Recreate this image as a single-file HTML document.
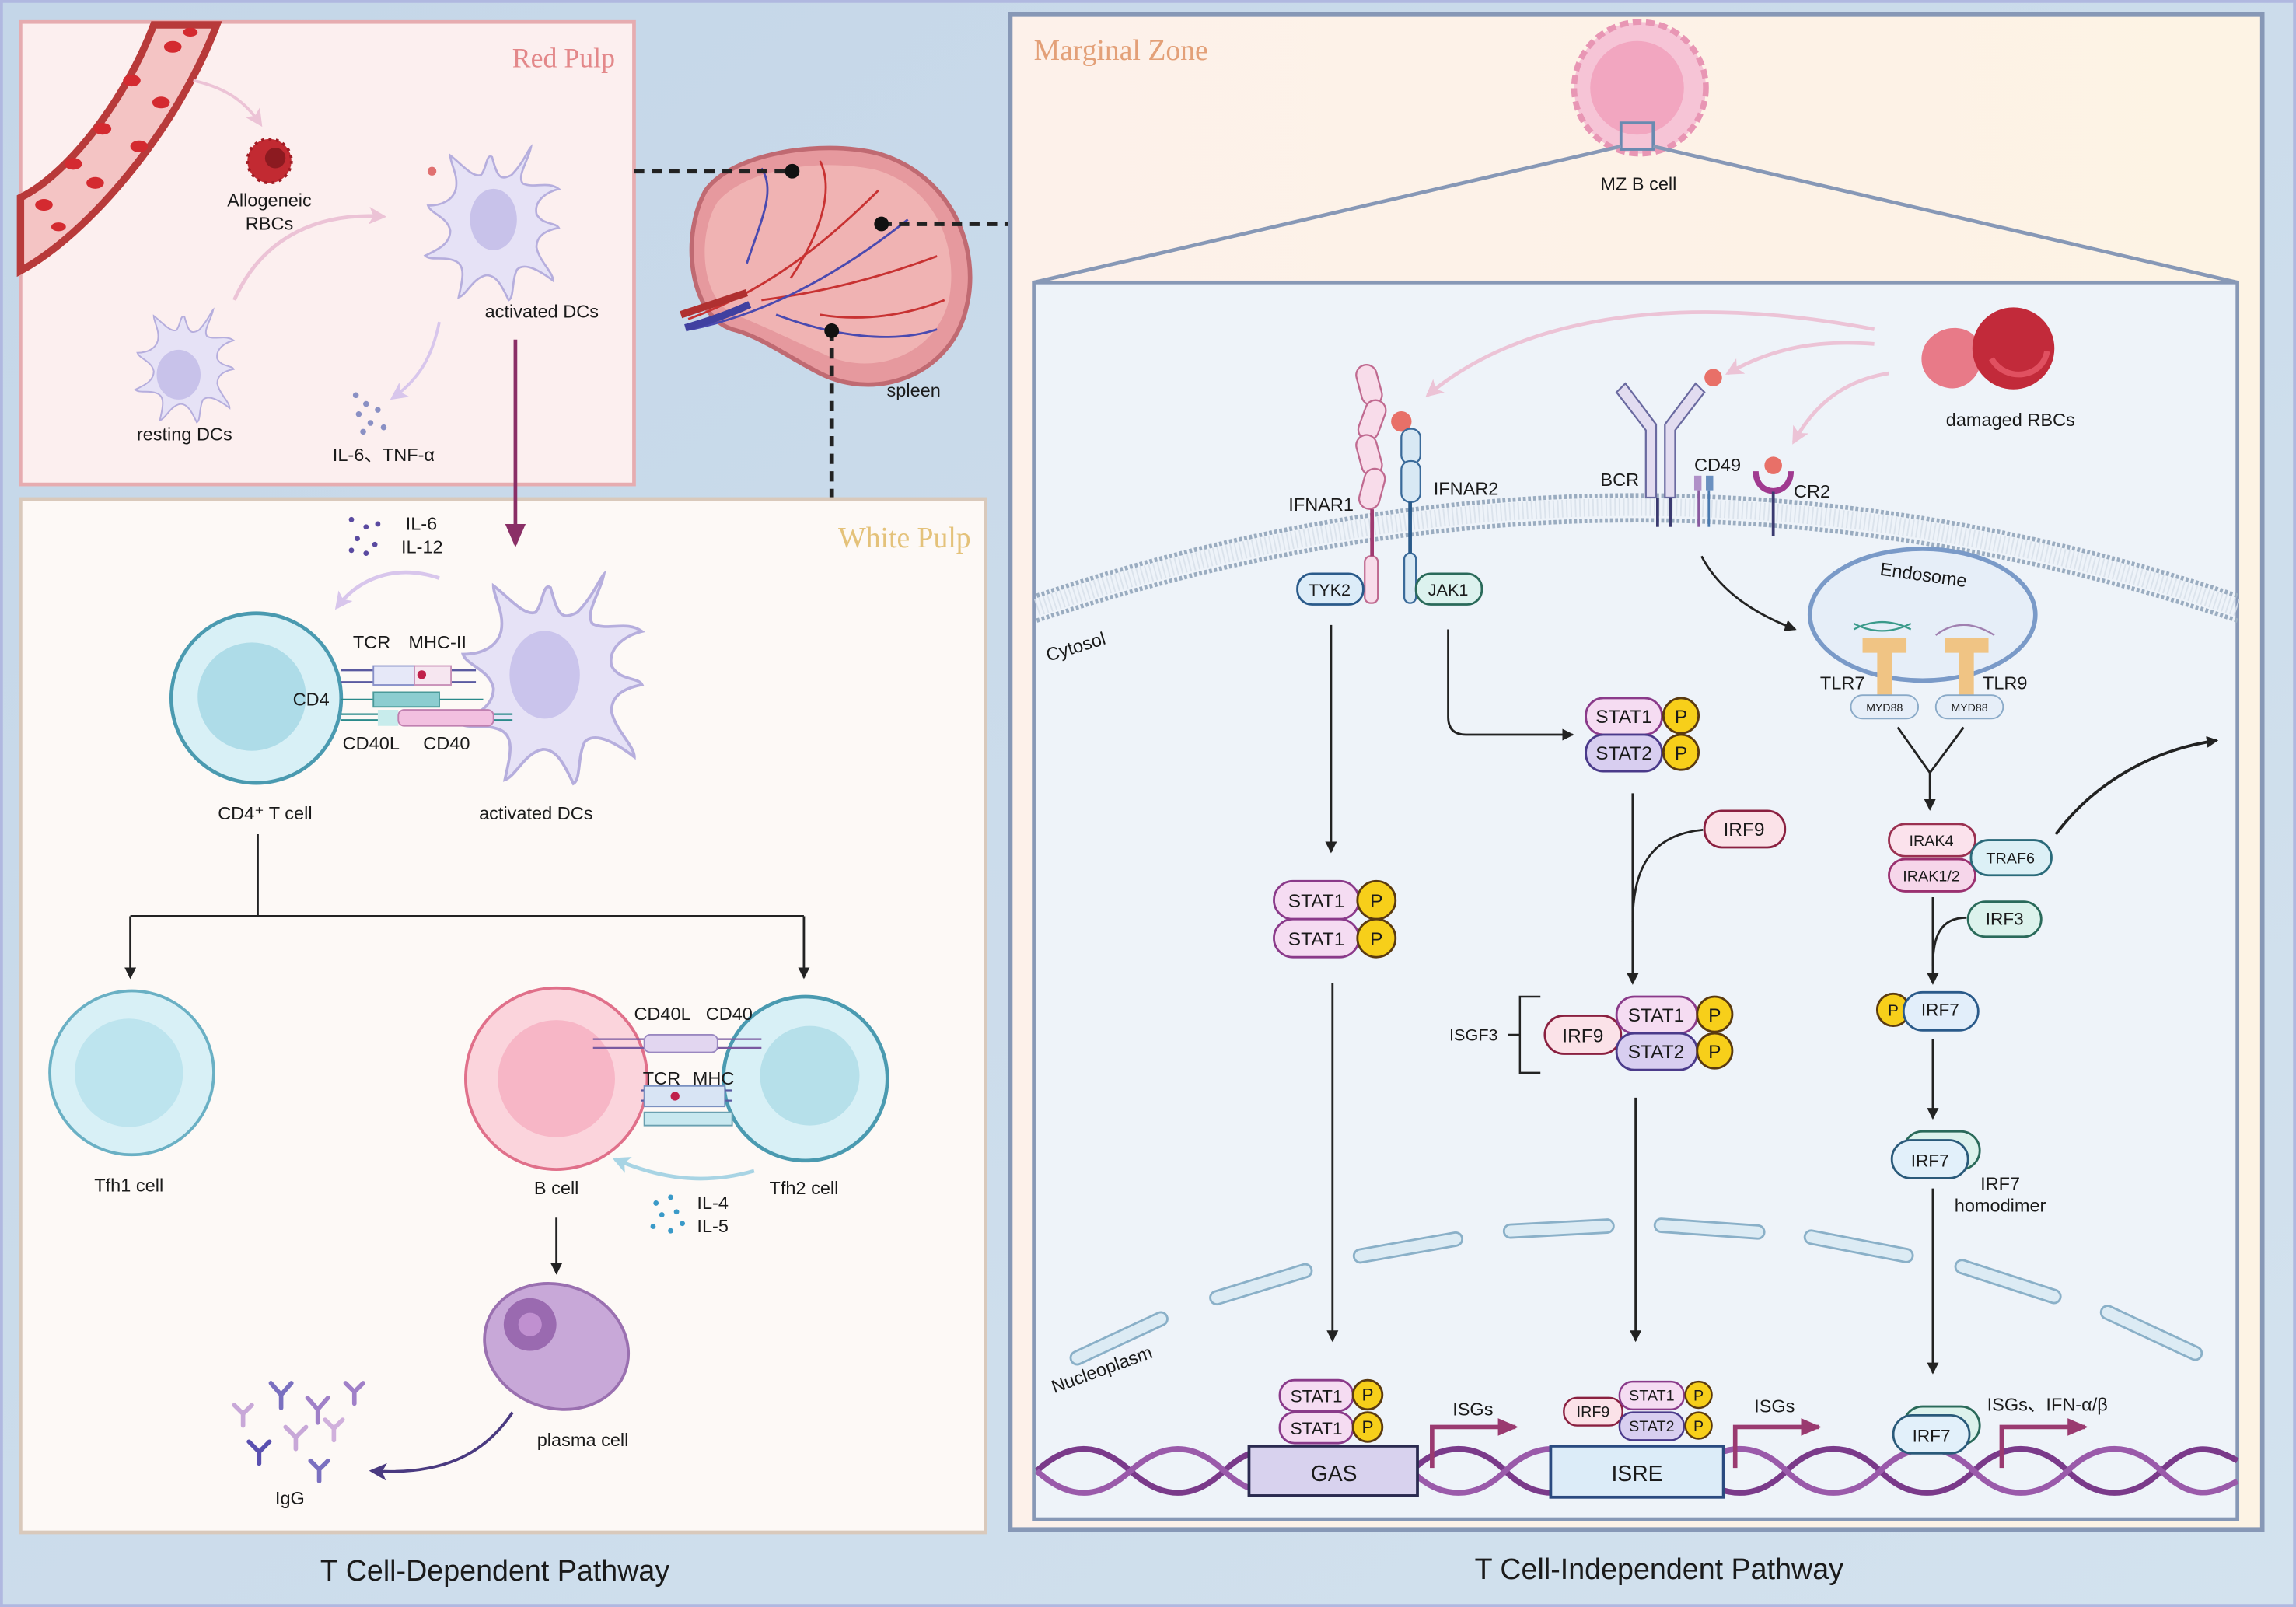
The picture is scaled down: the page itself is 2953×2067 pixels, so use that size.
<!DOCTYPE html>
<html><head><meta charset="utf-8"><style>
html,body{margin:0;padding:0;width:2953px;height:2067px;overflow:hidden;background:#c8dae9}
svg{display:block}
text{font-family:"Liberation Sans",Arial,sans-serif;fill:#1a1a1a}
.t{font-size:12.5px}
.ser{font-family:"Liberation Serif",serif}
</style></head><body>
<svg width="2953" height="2067" viewBox="0 0 1568 1098" preserveAspectRatio="none" xmlns="http://www.w3.org/2000/svg">
<defs>
<linearGradient id="bg" x1="0" y1="0" x2="1" y2="1"><stop offset="0" stop-color="#c4d6e8"/><stop offset="1" stop-color="#d3e2ee"/></linearGradient>
<linearGradient id="mz" x1="0" y1="0" x2="1" y2="0"><stop offset="0" stop-color="#fdf1ea"/><stop offset="1" stop-color="#fdf3e4"/></linearGradient>
<marker id="ah" markerWidth="8" markerHeight="8" refX="7" refY="4" orient="auto" markerUnits="userSpaceOnUse"><path d="M0,0 L8,4 L0,8 z" fill="#222"/></marker>
<marker id="ahp" markerWidth="12" markerHeight="12" refX="10" refY="6" orient="auto" markerUnits="userSpaceOnUse"><path d="M0,0 L12,6 L0,12 L3,6 z" fill="#ecc3d6"/></marker>
<marker id="ahl" markerWidth="12" markerHeight="12" refX="10" refY="6" orient="auto" markerUnits="userSpaceOnUse"><path d="M0,0 L12,6 L0,12 L3,6 z" fill="#d8c6ec"/></marker>
<marker id="ahb" markerWidth="12" markerHeight="12" refX="10" refY="6" orient="auto" markerUnits="userSpaceOnUse"><path d="M0,0 L12,6 L0,12 L3,6 z" fill="#a8d4e4"/></marker>
<marker id="ahd" markerWidth="12" markerHeight="12" refX="10" refY="6" orient="auto" markerUnits="userSpaceOnUse"><path d="M0,0 L12,6 L0,12 L3,6 z" fill="#4a3a80"/></marker>
<marker id="ahm" markerWidth="16" markerHeight="14" refX="14" refY="7" orient="auto" markerUnits="userSpaceOnUse"><path d="M0,0 L16,7 L0,14 z" fill="#8a2f66"/></marker>
<marker id="ahg" markerWidth="14" markerHeight="14" refX="12" refY="7" orient="auto" markerUnits="userSpaceOnUse"><path d="M0,1 L14,7 L0,13 z" fill="#9a3a70"/></marker>
<g id="dc"><path d="M0,-45 C4,-30 6,-28 14,-32 C22,-40 26,-50 28,-52 C26,-42 18,-32 22,-26 C30,-22 40,-28 48,-22 C40,-20 30,-14 32,-4 C36,4 46,2 48,6 C38,8 32,12 32,20 C34,30 44,38 44,44 C36,38 24,30 18,36 C14,44 16,56 12,58 C8,50 4,40 -4,40 C-14,42 -18,54 -24,56 C-22,46 -18,34 -26,30 C-34,26 -44,30 -48,26 C-40,22 -30,18 -30,8 C-32,-2 -44,-4 -46,-10 C-36,-10 -28,-14 -26,-22 C-24,-32 -30,-40 -30,-46 C-22,-40 -14,-30 -8,-32 C-4,-36 -4,-48 0,-45 z" fill="#e6e2f6" stroke="#b6aedd" stroke-width="1.5"/></g>
</defs>
<rect width="1568" height="1098" fill="url(#bg)"/>
<rect x="1" y="1" width="1566" height="1096" fill="none" stroke="#b0b8e0" stroke-width="2"/>

<!-- Red Pulp -->
<rect x="14" y="15" width="419" height="316" fill="#fcefef" stroke="#e6acb0" stroke-width="2.5"/>
<text x="420" y="46" text-anchor="end" class="ser" font-size="19" style="fill:#e3888a">Red Pulp</text>
<path d="M14,185 C60,160 120,90 148,17 L105,17 C85,70 45,120 14,135 z" fill="#f4c4c4" stroke="#b83a3a" stroke-width="5"/>
<g fill="#d42a30"><ellipse cx="118" cy="32" rx="6" ry="4"/><ellipse cx="90" cy="55" rx="6" ry="4"/><ellipse cx="110" cy="70" rx="6" ry="4"/><ellipse cx="70" cy="88" rx="6" ry="4"/><ellipse cx="95" cy="100" rx="6" ry="4"/><ellipse cx="50" cy="112" rx="6" ry="4"/><ellipse cx="65" cy="125" rx="6" ry="4"/><ellipse cx="30" cy="140" rx="6" ry="4"/><ellipse cx="40" cy="155" rx="5" ry="3"/><ellipse cx="130" cy="22" rx="5" ry="3"/></g>
<path d="M132,55 C155,60 168,70 178,85" fill="none" stroke="#ecc3d6" stroke-width="2" marker-end="url(#ahp)"/>
<circle cx="184" cy="110" r="15" fill="#c22a32" stroke="#a01c24" stroke-width="2" stroke-dasharray="2 3"/>
<circle cx="188" cy="108" r="7" fill="#8c1a20"/>
<text x="184" y="141" text-anchor="middle" class="t">Allogeneic</text>
<text x="184" y="157" text-anchor="middle" class="t">RBCs</text>
<path d="M160,205 C180,160 220,145 262,148" fill="none" stroke="#ecc3d6" stroke-width="2.5" marker-end="url(#ahp)"/>
<use href="#dc" transform="translate(336,150) scale(0.95)"/>
<ellipse cx="337" cy="150" rx="16" ry="21" fill="#c8c2ea"/>
<circle cx="295" cy="117" r="3" fill="#e07070"/>
<text x="370" y="217" text-anchor="middle" class="t">activated DCs</text>
<use href="#dc" transform="translate(126,248) scale(0.7)"/>
<ellipse cx="122" cy="256" rx="15" ry="17" fill="#c8c2ea"/>
<text x="126" y="301" text-anchor="middle" class="t">resting DCs</text>
<path d="M300,220 C295,245 285,260 268,272" fill="none" stroke="#d8c6ec" stroke-width="2" marker-end="url(#ahl)"/>
<g fill="#8a90c4"><circle cx="243" cy="270" r="2"/><circle cx="250" cy="276" r="2"/><circle cx="258" cy="280" r="2"/><circle cx="245" cy="283" r="2"/><circle cx="253" cy="289" r="2"/><circle cx="262" cy="292" r="2"/><circle cx="248" cy="295" r="2"/></g>
<text x="262" y="315" text-anchor="middle" class="t">IL-6、TNF-α</text>

<!-- spleen -->
<path d="M482,130 C500,105 560,95 600,105 C650,120 670,170 660,210 C650,255 600,275 560,255 C540,245 520,230 500,225 C470,215 465,160 482,130 z" fill="#e6999e" stroke="#c06a72" stroke-width="3"/>
<path d="M490,138 C510,115 560,108 598,116 C640,128 655,170 648,205 C640,240 600,258 565,243 C540,232 520,222 502,215 C478,205 476,160 490,138 z" fill="#f0b3b3"/>
<g stroke="#c83232" stroke-width="1.5" fill="none"><path d="M470,218 C520,200 560,170 600,130"/><path d="M520,205 C560,200 600,190 640,175"/><path d="M540,190 C560,160 570,130 560,110"/><path d="M560,215 C590,220 620,215 645,205"/></g>
<g stroke="#4a4ab0" stroke-width="1.5" fill="none"><path d="M472,225 C520,215 570,190 620,150"/><path d="M530,215 C570,230 610,235 640,225"/><path d="M510,180 C520,150 530,130 520,115"/></g>
<path d="M465,215 C480,210 495,205 510,200" stroke="#b03030" stroke-width="5"/><path d="M468,224 C482,220 497,215 512,208" stroke="#4040a0" stroke-width="5"/>
<text x="624" y="271" text-anchor="middle" class="t">spleen</text>
<g stroke="#222" stroke-width="3" stroke-dasharray="7 5" fill="none"><path d="M433,117 L541,117"/><path d="M602,153 L690,153"/><path d="M568,226 L568,341"/></g>
<g fill="#111"><circle cx="541" cy="117" r="5"/><circle cx="602" cy="153" r="5"/><circle cx="568" cy="226" r="5"/></g>

<!-- White Pulp -->
<rect x="14" y="341" width="659" height="706" fill="#fdf9f6" stroke="#d9c9bb" stroke-width="2.5"/>
<path d="M352,232 L352,372" stroke="#8a2f66" stroke-width="2.5" marker-end="url(#ahm)"/>
<text x="663" y="374" text-anchor="end" class="ser" font-size="20" style="fill:#e4c27a">White Pulp</text>
<g fill="#5a4aa0"><circle cx="240" cy="355" r="1.8"/><circle cx="250" cy="360" r="1.8"/><circle cx="244" cy="368" r="1.8"/><circle cx="256" cy="372" r="1.8"/><circle cx="240" cy="376" r="1.8"/><circle cx="258" cy="358" r="1.8"/><circle cx="250" cy="378" r="1.8"/></g>
<text x="277" y="362" class="t">IL-6</text><text x="274" y="378" class="t">IL-12</text>
<path d="M300,395 C270,385 245,395 230,415" fill="none" stroke="#d8c6ec" stroke-width="2.5" marker-end="url(#ahl)"/>
<circle cx="175" cy="477" r="58" fill="#d8f0f6" stroke="#4a9ab0" stroke-width="2.5"/>
<circle cx="172" cy="476" r="37" fill="#aedce8"/>
<use href="#dc" transform="translate(376,460) scale(1.3)"/>
<ellipse cx="372" cy="461" rx="24" ry="30" fill="#cac4ec"/>
<g stroke="#5a5aa0" stroke-width="1.2"><path d="M233,458 L325,458"/><path d="M233,466 L325,466"/></g>
<rect x="255" y="455" width="28" height="13" fill="#e6e8f8" stroke="#8890c8"/><rect x="283" y="455" width="25" height="13" fill="#f6e6f0" stroke="#c890b8"/><circle cx="288" cy="461" r="3" fill="#c0204a"/>
<g stroke="#2a8a8a" stroke-width="1.2"><path d="M233,478 L330,478"/></g>
<rect x="255" y="473" width="45" height="10" fill="#8ccdd0" stroke="#4a9a9a"/>
<g stroke="#2a8a8a" stroke-width="1.2"><path d="M233,488 L350,488"/><path d="M233,492 L350,492"/></g>
<rect x="258" y="485" width="14" height="11" fill="#c8ecec"/><rect x="272" y="485" width="65" height="11" rx="4" fill="#f2c0e0" stroke="#c080b0"/>
<text x="241" y="443" class="t">TCR</text><text x="279" y="443" class="t">MHC-II</text>
<text x="200" y="482" class="t">CD4</text>
<text x="234" y="512" class="t">CD40L</text><text x="289" y="512" class="t">CD40</text>
<text x="181" y="560" text-anchor="middle" class="t">CD4⁺ T cell</text>
<text x="366" y="560" text-anchor="middle" class="t">activated DCs</text>
<g stroke="#222" stroke-width="1.5" fill="none"><path d="M176,570 L176,626"/><path d="M89,626 L549,626"/><path d="M89,626 L89,668" marker-end="url(#ah)"/><path d="M549,626 L549,668" marker-end="url(#ah)"/></g>
<circle cx="90" cy="733" r="56" fill="#d8f0f6" stroke="#6ab0c4" stroke-width="2"/>
<circle cx="88" cy="733" r="37" fill="#bde4ee"/>
<text x="88" y="814" text-anchor="middle" class="t">Tfh1 cell</text>
<circle cx="380" cy="737" r="62" fill="#fbd4dc" stroke="#e0708a" stroke-width="2"/>
<circle cx="380" cy="737" r="40" fill="#f7b6c6"/>
<circle cx="550" cy="737" r="56" fill="#d8f0f6" stroke="#4a9ab0" stroke-width="2.5"/>
<circle cx="553" cy="735" r="34" fill="#b6e0ea"/>
<g stroke="#7a5aa0" stroke-width="1.2"><path d="M405,710 L520,710"/><path d="M405,716 L520,716"/></g>
<rect x="440" y="707" width="50" height="12" rx="4" fill="#e2d6f0" stroke="#9a88c0"/>
<g stroke="#5a5aa0" stroke-width="1.2"><path d="M438,745 L500,745"/><path d="M438,752 L500,752"/></g>
<rect x="440" y="742" width="55" height="14" fill="#d8e4f4" stroke="#7a90c0"/><circle cx="461" cy="749" r="3" fill="#c0204a"/>
<rect x="440" y="760" width="60" height="9" fill="#c8e8ef" stroke="#6aa0b0"/>
<text x="433" y="697" class="t">CD40L</text><text x="482" y="697" class="t">CD40</text>
<text x="439" y="741" class="t">TCR</text><text x="473" y="741" class="t">MHC</text>
<text x="380" y="816" text-anchor="middle" class="t">B cell</text>
<text x="549" y="816" text-anchor="middle" class="t">Tfh2 cell</text>
<path d="M515,800 C480,810 450,805 420,792" fill="none" stroke="#a8d4e4" stroke-width="2.5" marker-end="url(#ahb)"/>
<g fill="#3a9ac8"><circle cx="448" cy="822" r="1.8"/><circle cx="458" cy="818" r="1.8"/><circle cx="452" cy="830" r="1.8"/><circle cx="462" cy="828" r="1.8"/><circle cx="446" cy="838" r="1.8"/><circle cx="458" cy="841" r="1.8"/><circle cx="466" cy="836" r="1.8"/></g>
<text x="476" y="826" class="t">IL-4</text><text x="476" y="842" class="t">IL-5</text>
<path d="M380,832 L380,870" stroke="#222" stroke-width="1.5" marker-end="url(#ah)"/>
<ellipse cx="380" cy="920" rx="50" ry="42" fill="#c8a8d8" stroke="#9a70b0" stroke-width="2" transform="rotate(20 380 920)"/>
<circle cx="362" cy="905" r="18" fill="#9a6ab0"/><circle cx="362" cy="905" r="8" fill="#c090d0"/>
<text x="398" y="988" text-anchor="middle" class="t">plasma cell</text>
<path d="M350,965 C330,995 300,1008 254,1005" fill="none" stroke="#4a3a80" stroke-width="2" marker-end="url(#ahd)"/>
<g stroke-width="3" fill="none" stroke-linecap="round">
<path d="M185,945 l7,8 l7,-8 M192,953 l0,9" stroke="#7a70c0"/><path d="M160,960 l6,6 l6,-6 M166,966 l0,8" stroke="#c8a8d8"/>
<path d="M210,955 l7,8 l7,-8 M217,963 l0,9" stroke="#a080c8"/><path d="M170,985 l7,7 l7,-7 M177,992 l0,8" stroke="#5a50b0"/>
<path d="M195,975 l7,7 l7,-7 M202,982 l0,8" stroke="#c8a8d8"/><path d="M212,998 l6,6 l6,-6 M218,1004 l0,8" stroke="#7a70c0"/>
<path d="M236,945 l6,6 l6,-6 M242,951 l0,8" stroke="#a080c8"/><path d="M222,970 l6,6 l6,-6 M228,976 l0,8" stroke="#d0b0dc"/></g>
<text x="198" y="1028" text-anchor="middle" class="t">IgG</text>
<text x="338" y="1080" text-anchor="middle" font-size="20">T Cell-Dependent Pathway</text>

<!-- Marginal Zone -->
<rect x="690" y="10" width="855" height="1035" fill="url(#mz)" stroke="#8798b6" stroke-width="3"/>
<text x="706" y="41" class="ser" font-size="20" style="fill:#e3a078">Marginal Zone</text>
<circle cx="1120" cy="60" r="45" fill="#f6c4d6" stroke="#e896b4" stroke-width="4" stroke-dasharray="6 3"/>
<circle cx="1118" cy="60" r="32" fill="#f2a6c0"/>
<rect x="1107" y="84" width="22" height="18" fill="none" stroke="#6a8ab0" stroke-width="2"/>
<text x="1119" y="130" text-anchor="middle" class="t">MZ B cell</text>
<g stroke="#8798b6" stroke-width="2.5"><path d="M1107,100 L706,193"/><path d="M1129,100 L1528,193"/></g>
<rect x="706" y="193" width="822" height="845" fill="#eef3f9" stroke="#8798b6" stroke-width="2.5"/>
<!-- membrane -->
<path d="M708,407 Q1118,270 1528,407" fill="none" stroke="#9aacc0" stroke-width="3" stroke-dasharray="2 1.5"/>
<path d="M708,424 Q1118,287 1528,424" fill="none" stroke="#9aacc0" stroke-width="3" stroke-dasharray="2 1.5"/>
<path d="M708,415 Q1118,278 1528,415" fill="none" stroke="#d6dfe8" stroke-width="12" stroke-dasharray="1 2" opacity="0.8"/>
<text x="716" y="452" class="t" transform="rotate(-17 716 452)">Cytosol</text>
<path d="M1280,225 C1150,200 1040,215 975,270" fill="none" stroke="#ecc3d6" stroke-width="2.5" marker-end="url(#ahp)"/>
<path d="M1280,235 C1240,232 1210,238 1180,255" fill="none" stroke="#ecc3d6" stroke-width="2.5" marker-end="url(#ahp)"/>
<path d="M1290,255 C1260,260 1240,275 1225,302" fill="none" stroke="#ecc3d6" stroke-width="2.5" marker-end="url(#ahp)"/>
<path d="M1315,235 C1325,220 1345,222 1350,232 C1360,250 1345,268 1330,265 C1315,262 1308,248 1315,235 z" fill="#e87a88"/>
<circle cx="1375" cy="238" r="28" fill="#c22a3a"/><path d="M1360,245 C1370,262 1395,258 1398,240" stroke="#e05060" stroke-width="4" fill="none"/>
<text x="1373" y="291" text-anchor="middle" class="t">damaged RBCs</text>
<!-- IFNAR -->
<g fill="#f8dcea" stroke="#c06a90" stroke-width="1.2"><rect x="928" y="249" width="14" height="28" rx="7" transform="rotate(-15 935 263)"/><rect x="930" y="273" width="14" height="28" rx="7" transform="rotate(20 937 287)"/><rect x="928" y="297" width="14" height="28" rx="7" transform="rotate(-15 935 311)"/><rect x="930" y="320" width="14" height="28" rx="7" transform="rotate(15 937 334)"/><rect x="932" y="380" width="9" height="32" rx="4"/></g>
<path d="M937,348 L937,380" stroke="#a03a70" stroke-width="2.5"/>
<circle cx="957" cy="288" r="7" fill="#e87068"/>
<g fill="#d8e8f4" stroke="#3a6a9a" stroke-width="1.2"><rect x="957" y="293" width="13" height="24" rx="6"/><rect x="957" y="315" width="13" height="28" rx="6"/><rect x="959" y="378" width="8" height="34" rx="4"/></g>
<path d="M963,343 L963,378" stroke="#2a5a8a" stroke-width="2.5"/>
<text x="880" y="349" class="t">IFNAR1</text><text x="979" y="338" class="t">IFNAR2</text>
<rect x="886" y="392" width="45" height="21" rx="10" fill="#dcecf8" stroke="#2a5a8a" stroke-width="1.5"/><text x="908" y="407" text-anchor="middle" font-size="11.5">TYK2</text>
<rect x="967" y="392" width="45" height="21" rx="10" fill="#dcf2ee" stroke="#2a6a5a" stroke-width="1.5"/><text x="989" y="407" text-anchor="middle" font-size="11.5">JAK1</text>
<!-- BCR -->
<g fill="#e2dcf0" stroke="#6a6aa0" stroke-width="1.2"><path d="M1131,340 L1131,290 L1110,262 L1104,268 L1124,294 L1124,340 z"/><path d="M1137,340 L1137,290 L1158,262 L1164,268 L1144,294 L1144,340 z"/></g>
<g stroke="#3a3a70" stroke-width="2"><path d="M1132,340 L1132,360"/><path d="M1141,340 L1141,360"/></g>
<circle cx="1170" cy="258" r="6" fill="#e87068"/>
<text x="1093" y="332" class="t">BCR</text>
<rect x="1157" y="325" width="5" height="10" fill="#b090c8"/><rect x="1165" y="325" width="5" height="10" fill="#6a90c0"/>
<path d="M1160,335 L1160,360" stroke="#8a5aa0" stroke-width="1.5"/><path d="M1167,335 L1167,360" stroke="#4a7ab0" stroke-width="1.5"/>
<text x="1157" y="322" class="t">CD49</text>
<path d="M1199,322 C1199,340 1223,340 1223,322" stroke="#a03a90" stroke-width="4" fill="none"/><circle cx="1211" cy="318" r="6" fill="#e87068"/>
<path d="M1211,336 L1211,366" stroke="#3a3a70" stroke-width="2"/>
<text x="1225" y="340" class="t">CR2</text>
<!-- endosome -->
<path d="M1162,380 C1175,405 1200,420 1226,430" fill="none" stroke="#222" stroke-width="1.5" marker-end="url(#ah)"/>
<ellipse cx="1313" cy="420" rx="77" ry="45" fill="#e6eef8" stroke="#7a9ac8" stroke-width="3"/>
<text x="1313" y="397" text-anchor="middle" class="t" transform="rotate(8 1313 397)">Endosome</text>
<path d="M1266,430 Q1285,420 1305,430 M1266,426 Q1285,436 1305,426" stroke="#3a9a8a" stroke-width="1.2" fill="none"/>
<path d="M1322,434 Q1340,420 1362,434" stroke="#a080b0" stroke-width="1.2" fill="none"/>
<g fill="#f0c484"><path d="M1272,436 h30 v10 h-10 v30 h-10 v-30 h-10 z"/><path d="M1328,436 h30 v10 h-10 v30 h-10 v-30 h-10 z"/></g>
<text x="1243" y="471" class="t">TLR7</text><text x="1354" y="471" class="t">TLR9</text>
<rect x="1264" y="475" width="46" height="16" rx="8" fill="#e6eef8" stroke="#8aaac8"/><text x="1287" y="486" text-anchor="middle" font-size="7.5">MYD88</text>
<rect x="1322" y="475" width="46" height="16" rx="8" fill="#e6eef8" stroke="#8aaac8"/><text x="1345" y="486" text-anchor="middle" font-size="7.5">MYD88</text>
<g stroke="#222" stroke-width="1.5" fill="none"><path d="M1296,497 L1318,528 L1341,497"/><path d="M1318,528 L1318,553" marker-end="url(#ah)"/></g>
<rect x="1290" y="563" width="59" height="22" rx="11" fill="#fbe2ec" stroke="#9a3050" stroke-width="1.5"/><text x="1319" y="578" text-anchor="middle" font-size="10.5">IRAK4</text>
<rect x="1290" y="587" width="59" height="22" rx="11" fill="#f6d6ea" stroke="#9a3070" stroke-width="1.5"/><text x="1319" y="602" text-anchor="middle" font-size="10.5">IRAK1/2</text>
<rect x="1346" y="574" width="55" height="24" rx="12" fill="#dcf0f6" stroke="#2a6a7a" stroke-width="1.5"/><text x="1373" y="590" text-anchor="middle" font-size="10.5">TRAF6</text>
<path d="M1404,570 C1430,535 1470,512 1514,506" fill="none" stroke="#222" stroke-width="2" marker-end="url(#ah)"/>
<path d="M1320,613 L1320,672" stroke="#222" stroke-width="1.5" marker-end="url(#ah)"/>
<path d="M1343,627 C1325,627 1320,640 1320,660" stroke="#222" stroke-width="1.5" fill="none"/>
<rect x="1344" y="616" width="50" height="24" rx="12" fill="#dcf2ec" stroke="#2a6a5a" stroke-width="1.5"/><text x="1369" y="632" text-anchor="middle" font-size="12">IRF3</text>
<circle cx="1293" cy="690" r="11" fill="#f7cf1a" stroke="#5a3a10" stroke-width="1.5"/><text x="1293" y="694" text-anchor="middle" font-size="11">P</text>
<rect x="1300" y="678" width="51" height="26" rx="13" fill="#e2eefa" stroke="#2a5a8a" stroke-width="1.5"/><text x="1325" y="694" text-anchor="middle" font-size="12">IRF7</text>
<path d="M1320,710 L1320,764" stroke="#222" stroke-width="1.5" marker-end="url(#ah)"/>
<rect x="1300" y="773" width="52" height="26" rx="13" fill="#dcf2ec" stroke="#2a6a5a" stroke-width="1.5"/>
<rect x="1292" y="779" width="52" height="26" rx="13" fill="#e2f0fa" stroke="#2a5a7a" stroke-width="1.5"/><text x="1318" y="797" text-anchor="middle" font-size="12">IRF7</text>
<text x="1366" y="813" text-anchor="middle" class="t">IRF7</text><text x="1366" y="828" text-anchor="middle" class="t">homodimer</text>
<path d="M1320,812 L1320,938" stroke="#222" stroke-width="1.5" marker-end="url(#ah)"/>
<path d="M909,427 L909,582" stroke="#222" stroke-width="1.5" marker-end="url(#ah)"/>
<path d="M989,430 L989,490 Q989,502 1001,502 L1074,502" fill="none" stroke="#222" stroke-width="1.5" marker-end="url(#ah)"/>
<g font-size="13">
<rect x="1083" y="477" width="52" height="25" rx="12" fill="#f5dcf2" stroke="#8a3a8a" stroke-width="1.5"/><text x="1109" y="494" text-anchor="middle">STAT1</text>
<rect x="1083" y="502" width="52" height="25" rx="12" fill="#d8cef0" stroke="#4a3a8a" stroke-width="1.5"/><text x="1109" y="519" text-anchor="middle">STAT2</text>
<circle cx="1148" cy="489" r="12" fill="#f7cf1a" stroke="#5a3a10" stroke-width="1.5"/><text x="1148" y="494" text-anchor="middle">P</text>
<circle cx="1148" cy="514" r="12" fill="#f7cf1a" stroke="#5a3a10" stroke-width="1.5"/><text x="1148" y="519" text-anchor="middle">P</text>
</g>
<path d="M1115,542 L1115,672" stroke="#222" stroke-width="1.5" marker-end="url(#ah)"/>
<path d="M1163,567 C1130,570 1115,590 1115,630" fill="none" stroke="#222" stroke-width="1.5"/>
<rect x="1164" y="554" width="55" height="25" rx="12" fill="#fbe2e8" stroke="#8a2040" stroke-width="1.5"/><text x="1191" y="571" text-anchor="middle" font-size="13">IRF9</text>
<g font-size="13">
<rect x="870" y="602" width="58" height="26" rx="13" fill="#f5dcf2" stroke="#8a3a8a" stroke-width="1.5"/><text x="899" y="620" text-anchor="middle">STAT1</text>
<rect x="870" y="628" width="58" height="26" rx="13" fill="#f5dcf2" stroke="#8a3a8a" stroke-width="1.5"/><text x="899" y="646" text-anchor="middle">STAT1</text>
<circle cx="940" cy="615" r="13" fill="#f7cf1a" stroke="#5a3a10" stroke-width="1.5"/><text x="940" y="620" text-anchor="middle">P</text>
<circle cx="940" cy="641" r="13" fill="#f7cf1a" stroke="#5a3a10" stroke-width="1.5"/><text x="940" y="646" text-anchor="middle">P</text>
<rect x="1055" y="694" width="52" height="26" rx="13" fill="#fbe2e8" stroke="#8a2040" stroke-width="1.5"/><text x="1081" y="712" text-anchor="middle">IRF9</text>
<rect x="1104" y="681" width="55" height="25" rx="12" fill="#f5dcf2" stroke="#8a3a8a" stroke-width="1.5"/><text x="1131" y="698" text-anchor="middle">STAT1</text>
<rect x="1104" y="706" width="55" height="25" rx="12" fill="#d8cef0" stroke="#4a3a8a" stroke-width="1.5"/><text x="1131" y="723" text-anchor="middle">STAT2</text>
<circle cx="1171" cy="693" r="12" fill="#f7cf1a" stroke="#5a3a10" stroke-width="1.5"/><text x="1171" y="698" text-anchor="middle">P</text>
<circle cx="1171" cy="718" r="12" fill="#f7cf1a" stroke="#5a3a10" stroke-width="1.5"/><text x="1171" y="723" text-anchor="middle">P</text>
</g>
<path d="M1052,681 L1038,681 L1038,733 L1052,733 M1038,707 L1030,707" fill="none" stroke="#222" stroke-width="1.3"/>
<text x="1023" y="711" text-anchor="end" font-size="11.5">ISGF3</text>
<path d="M910,672 L910,916" stroke="#222" stroke-width="1.5" marker-end="url(#ah)"/>
<path d="M1117,750 L1117,916" stroke="#222" stroke-width="1.5" marker-end="url(#ah)"/>
<g fill="#dcebf4" stroke="#8ab0c8" stroke-width="1.5">
<rect x="728" y="910" width="72" height="9" rx="4.5" transform="rotate(-25 764 914)"/>
<rect x="825" y="873" width="72" height="9" rx="4.5" transform="rotate(-17 861 877)"/>
<rect x="924" y="848" width="75" height="9" rx="4.5" transform="rotate(-10 961 852)"/>
<rect x="1027" y="835" width="75" height="9" rx="4.5" transform="rotate(-3 1064 839)"/>
<rect x="1130" y="835" width="75" height="9" rx="4.5" transform="rotate(4 1167 839)"/>
<rect x="1232" y="847" width="75" height="9" rx="4.5" transform="rotate(11 1269 851)"/>
<rect x="1334" y="871" width="75" height="9" rx="4.5" transform="rotate(18 1371 875)"/>
<rect x="1432" y="906" width="75" height="9" rx="4.5" transform="rotate(25 1469 910)"/>
</g>
<text x="720" y="952" class="t" transform="rotate(-20 720 952)">Nucleoplasm</text>
<path d="M708,1005 C730,985 750,985 772,1005 S815,1025 836,1005 S880,985 900,1005 S944,1025 964,1005 S1008,985 1028,1005 S1072,1025 1092,1005 S1136,985 1156,1005 S1200,1025 1220,1005 S1264,985 1284,1005 S1328,1025 1348,1005 S1392,985 1412,1005 S1456,1025 1476,1005 S1510,988 1528,998" fill="none" stroke="#7a3a8a" stroke-width="4"/>
<path d="M708,1005 C730,1025 750,1025 772,1005 S815,985 836,1005 S880,1025 900,1005 S944,985 964,1005 S1008,1025 1028,1005 S1072,985 1092,1005 S1136,1025 1156,1005 S1200,985 1220,1005 S1264,1025 1284,1005 S1328,985 1348,1005 S1392,1025 1412,1005 S1456,985 1476,1005 S1510,1022 1528,1012" fill="none" stroke="#9a5aaa" stroke-width="4"/>
<rect x="853" y="988" width="115" height="34" fill="#d8d2ee" stroke="#2a2a50" stroke-width="2"/><text x="911" y="1012" text-anchor="middle" font-size="15">GAS</text>
<rect x="1059" y="988" width="118" height="35" fill="#dcecf8" stroke="#2a4a80" stroke-width="2"/><text x="1118" y="1012" text-anchor="middle" font-size="15">ISRE</text>
<g font-size="12">
<rect x="874" y="943" width="50" height="21" rx="10" fill="#f5dcf2" stroke="#8a3a8a" stroke-width="1.5"/><text x="899" y="958" text-anchor="middle">STAT1</text>
<rect x="874" y="965" width="50" height="21" rx="10" fill="#f5dcf2" stroke="#8a3a8a" stroke-width="1.5"/><text x="899" y="980" text-anchor="middle">STAT1</text>
<circle cx="934" cy="953" r="10" fill="#f7cf1a" stroke="#5a3a10" stroke-width="1.5"/><text x="934" y="957" text-anchor="middle">P</text>
<circle cx="934" cy="975" r="10" fill="#f7cf1a" stroke="#5a3a10" stroke-width="1.5"/><text x="934" y="979" text-anchor="middle">P</text>
</g>
<g font-size="10.5">
<rect x="1068" y="955" width="40" height="19" rx="9" fill="#fbe2e8" stroke="#8a2040" stroke-width="1.3"/><text x="1088" y="968" text-anchor="middle">IRF9</text>
<rect x="1106" y="944" width="44" height="19" rx="9" fill="#f5dcf2" stroke="#8a3a8a" stroke-width="1.3"/><text x="1128" y="957" text-anchor="middle">STAT1</text>
<rect x="1106" y="965" width="44" height="19" rx="9" fill="#d8cef0" stroke="#4a3a8a" stroke-width="1.3"/><text x="1128" y="978" text-anchor="middle">STAT2</text>
<circle cx="1160" cy="953" r="9" fill="#f7cf1a" stroke="#5a3a10" stroke-width="1.3"/><text x="1160" y="957" text-anchor="middle">P</text>
<circle cx="1160" cy="974" r="9" fill="#f7cf1a" stroke="#5a3a10" stroke-width="1.3"/><text x="1160" y="978" text-anchor="middle">P</text>
</g>
<rect x="1300" y="961" width="52" height="26" rx="13" fill="#dcf2ec" stroke="#2a6a5a" stroke-width="1.5"/>
<rect x="1293" y="967" width="52" height="26" rx="13" fill="#e2f0fa" stroke="#2a5a7a" stroke-width="1.5"/><text x="1319" y="985" text-anchor="middle" font-size="12">IRF7</text>
<g fill="none" stroke="#9a3a70" stroke-width="3"><path d="M978,1003 L978,975 L1035,975" marker-end="url(#ahg)"/><path d="M1185,1003 L1185,975 L1242,975" marker-end="url(#ahg)"/><path d="M1367,1003 L1367,975 L1424,975" marker-end="url(#ahg)"/></g>
<text x="992" y="967" class="t">ISGs</text><text x="1198" y="965" class="t">ISGs</text><text x="1357" y="964" class="t">ISGs、IFN-α/β</text>
<text x="1133" y="1079" text-anchor="middle" font-size="20">T Cell-Independent Pathway</text>
</svg>
</body></html>
